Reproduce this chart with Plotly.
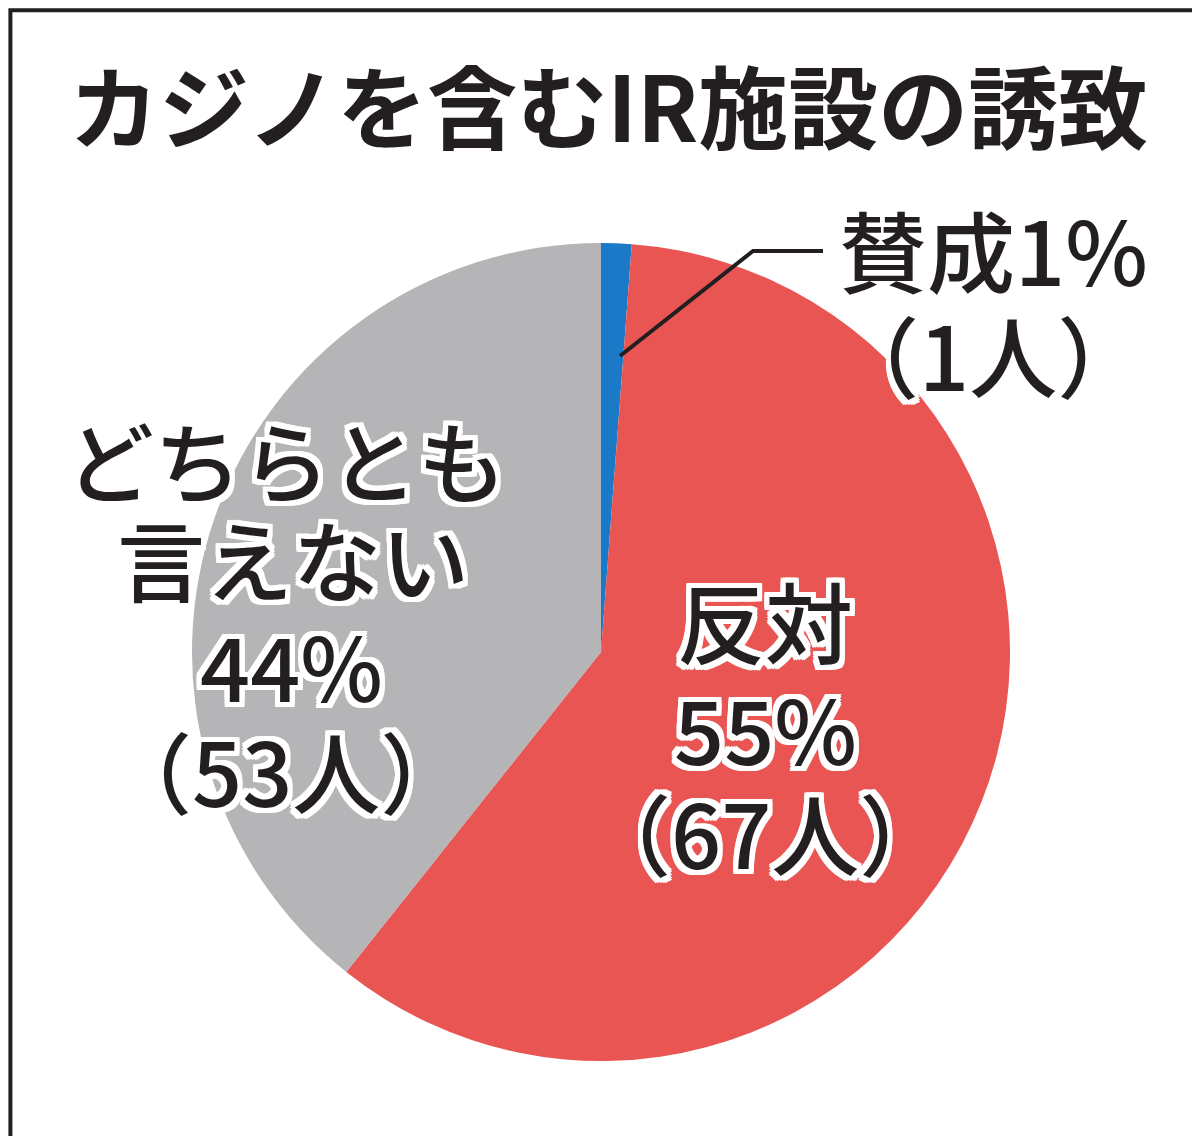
import plotly.graph_objects as go

labels = ["賛成", "反対", "どちらとも言えない"]
counts = [1, 67, 53]
percents = [1, 55, 44]
# slice sizes as drawn in the reference picture (angles)
drawn_share = [1.2, 59.5, 39.3]
colors = ["#1a7ac8", "#e85552", "#b5b5b7"]

W, H = 1200, 1136
FONT = "Noto Sans CJK JP"
HALO = ", ".join(f"{dx}px {dy}px 0 white" for dx in (-5, -3, 0, 3, 5) for dy in (-5, -3, 0, 3, 5))

fig = go.Figure(go.Pie(
    labels=labels, values=drawn_share, customdata=counts, sort=False,
    direction="clockwise", rotation=0,
    marker=dict(colors=colors, line=dict(width=0)),
    textinfo="none", hovertemplate="%{label}: %{customdata}人<extra></extra>", showlegend=False,
    domain=dict(x=[184 / W, 1002 / W], y=[1 - 1053 / H, 1 - 235 / H]),
))

def note(x, y, text, size=88, shadow=HALO, weight=500):
    fig.add_annotation(x=x / W, y=1 - y / H, xref="paper", yref="paper", text=text,
                       showarrow=False, xanchor="center", yanchor="middle",
                       font=dict(family=FONT, size=size, color="#231f20", shadow=shadow, weight=weight))

note(600, 95, "カジノを含むIR施設の誘致", size=90, shadow="none", weight=700)
note(985, 240, f"{labels[0]}{percents[0]}%")
note(980, 345, f"（{counts[0]}人）")
note(278, 450, "どちらとも")
note(285, 548, "言えない")
note(283, 655, f"{percents[2]}%")
note(278, 760, f"（{counts[2]}人）")
note(757, 610, labels[1])
note(757, 718, f"{percents[1]}%")
note(757, 822, f"（{counts[1]}人）")

# leader line for the small slice
fig.add_shape(type="path", xref="paper", yref="paper",
              path=f"M {612/W},{1-348/H} L {745/W},{1-243/H} L {815/W},{1-243/H}",
              line=dict(color="#231f20", width=4))
fig.add_shape(type="rect", xref="paper", yref="paper", x0=0.002, y0=0.002, x1=0.998, y1=0.998,
              line=dict(color="#231f20", width=4))

fig.update_layout(width=W, height=H, margin=dict(l=0, r=0, t=0, b=0),
                  paper_bgcolor="white", plot_bgcolor="white")
fig.write_html("out.html")
